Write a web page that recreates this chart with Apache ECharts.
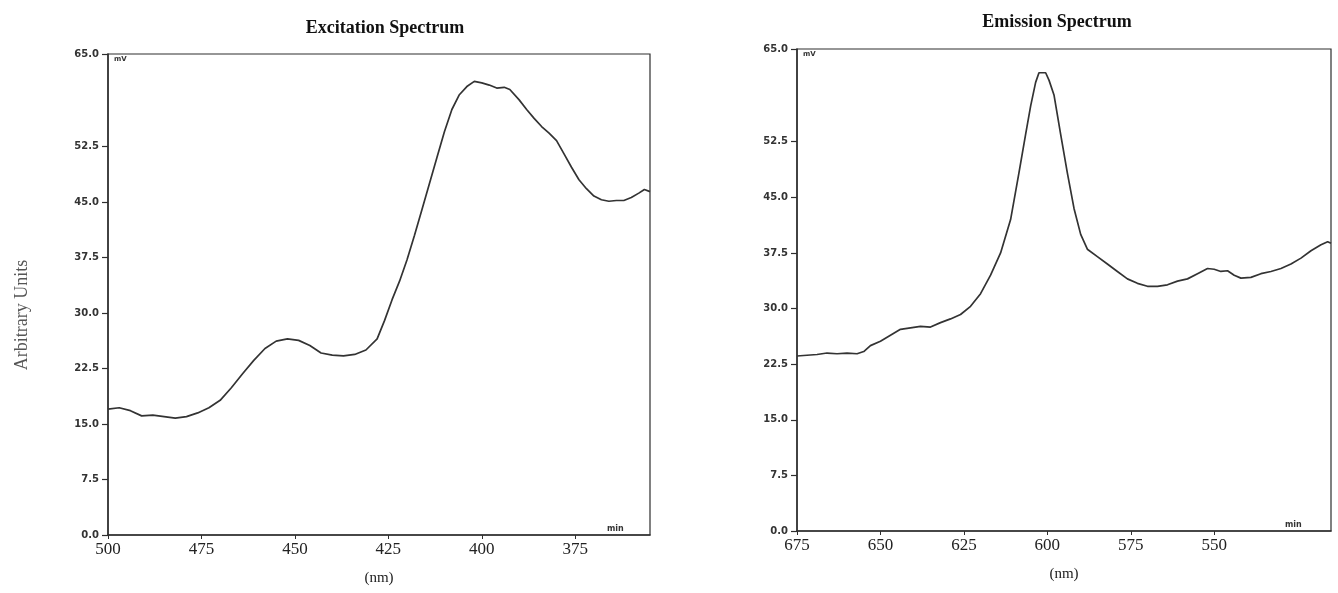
<!DOCTYPE html>
<html>
<head>
<meta charset="utf-8">
<script src="https://cdn.jsdelivr.net/npm/echarts@6/dist/echarts.min.js"></script>
<style>html,body{margin:0;padding:0;background:#fff}#c{width:1338px;height:593px}</style>
</head>
<body>
<div id="c"></div>
<script>
// ---- data ----
const exWavelength = [500,497,494,491,488,485,482,479,476,473,470,467,464,461,458,455,452,449,446,443,440,437,434,431,428,426,424,422,420,418,416,414,412,410,408,406,404,402,400,398,396,394,392.5,390,388,386,384,382,380,378,376,374,372,370,368,366,364,362,360,358,356.5,355];
const exValue = [17.0,17.2,16.8,16.1,16.2,16.0,15.8,16.0,16.5,17.2,18.2,19.9,21.8,23.6,25.2,26.2,26.5,26.3,25.6,24.6,24.3,24.2,24.4,25.0,26.5,29.0,31.8,34.3,37.2,40.5,44.0,47.5,51.0,54.5,57.5,59.5,60.6,61.3,61.1,60.8,60.4,60.5,60.2,58.8,57.5,56.3,55.2,54.3,53.3,51.5,49.7,48.0,46.8,45.8,45.3,45.1,45.2,45.2,45.6,46.2,46.7,46.4];
const emWavelength = [675,672,669,666,663,660,657,655,653,650,647,644,641,638,635,632,629,626,623,620,617,614,611,608.5,606.5,605,603.5,602.5,600.5,599.5,598,596,594,592,590,588,585,582,579,576,573,570,567,564,561,558,555,552,550,548,546,544,542,539,536,533,530,527,524,521,518,516,515];
const emValue = [23.6,23.7,23.8,24.0,23.9,24.0,23.9,24.2,25.0,25.6,26.4,27.2,27.4,27.6,27.5,28.1,28.6,29.2,30.3,32.0,34.5,37.5,42.0,48.3,53.5,57.3,60.5,61.8,61.8,60.8,58.8,53.5,48.3,43.5,40.0,38.0,37.0,36.0,35.0,34.0,33.4,33.0,33.0,33.2,33.7,34.0,34.7,35.4,35.3,35.0,35.1,34.5,34.1,34.2,34.7,35.0,35.4,36.0,36.8,37.8,38.6,39.0,38.8];
const exTicks = [500,475,450,425,400,375];
const emTicks = [675,650,625,600,575,550];
const yTicks = [0,7.5,15,22.5,30,37.5,45,52.5,65];
const exRange = [500,355];
const emRange = [675,515];

// ---- chart ----
const chart = echarts.init(document.getElementById('c'));
const ink = '#2e2e2e';
function xAxis(gi, ticks, range){
  return {
    type:'value', gridIndex:gi, min:-range[0], max:-range[1], interval:25,
    name:'(nm)', nameLocation:'middle', nameGap:36,
    nameTextStyle:{fontFamily:'Liberation Serif', fontSize:15, color:'#222'},
    axisLine:{show:true, lineStyle:{color:ink, width:1.5}},
    axisTick:{show:true, length:4, lineStyle:{color:ink}, customValues:ticks.map(t=>-t)},
    axisLabel:{fontFamily:'Liberation Serif', fontSize:17, color:'#222', margin:6,
      customValues:ticks.map(t=>-t),
      formatter:v=> ticks.indexOf(-v)>=0 ? String(-v) : ''},
    splitLine:{show:false}
  };
}
function yAxis(gi){
  return {
    type:'value', gridIndex:gi, min:0, max:65, interval:7.5,
    axisLine:{show:true, lineStyle:{color:ink, width:1.5}},
    axisTick:{show:true, length:6, lineStyle:{color:ink, width:1.2}, customValues:yTicks},
    axisLabel:{fontFamily:'DejaVu Sans', fontWeight:'bold', fontSize:10, color:'#333', margin:9,
      customValues:yTicks,
      formatter:v=> yTicks.indexOf(v)>=0 ? v.toFixed(1) : ''},
    splitLine:{show:false}
  };
}
chart.setOption({
  backgroundColor:'#fff',
  animation:false,
  title:[
    {text:'Excitation Spectrum', left:380, top:14, textAlign:'center',
     textStyle:{fontFamily:'Liberation Serif', fontWeight:'bold', fontSize:18, color:'#111'}},
    {text:'Emission Spectrum', left:1052, top:8, textAlign:'center',
     textStyle:{fontFamily:'Liberation Serif', fontWeight:'bold', fontSize:18, color:'#111'}}
  ],
  grid:[
    {left:108, top:54, width:542, height:481, show:true, borderColor:ink, borderWidth:1.2, backgroundColor:'transparent'},
    {left:797, top:49, width:534, height:482, show:true, borderColor:ink, borderWidth:1.2, backgroundColor:'transparent'}
  ],
  xAxis:[xAxis(0, exTicks, exRange), xAxis(1, emTicks, emRange)],
  yAxis:[yAxis(0), yAxis(1)],
  series:[
    {type:'line', xAxisIndex:0, yAxisIndex:0, showSymbol:false, smooth:false,
     lineStyle:{color:'#333', width:1.7},
     data:exWavelength.map((w,i)=>[-w, exValue[i]])},
    {type:'line', xAxisIndex:1, yAxisIndex:1, showSymbol:false, smooth:false,
     lineStyle:{color:'#333', width:1.7},
     data:emWavelength.map((w,i)=>[-w, emValue[i]])}
  ],
  graphic:[
    {type:'text', x:22, y:315, rotation:Math.PI/2, style:{text:'Arbitrary Units', fontFamily:'Liberation Serif', fontSize:18, fill:'#555', textAlign:'center', textVerticalAlign:'middle'}},
    {type:'text', left:114, top:56, style:{text:'mV', fontFamily:'DejaVu Sans', fontWeight:'bold', fontSize:7, fill:'#333'}},
    {type:'text', left:803, top:51, style:{text:'mV', fontFamily:'DejaVu Sans', fontWeight:'bold', fontSize:7, fill:'#333'}},
    {type:'text', left:607, top:525, style:{text:'min', fontFamily:'DejaVu Sans', fontWeight:'bold', fontSize:8, fill:'#333'}},
    {type:'text', left:1285, top:521, style:{text:'min', fontFamily:'DejaVu Sans', fontWeight:'bold', fontSize:8, fill:'#333'}}
  ]
});
</script>
</body>
</html>
